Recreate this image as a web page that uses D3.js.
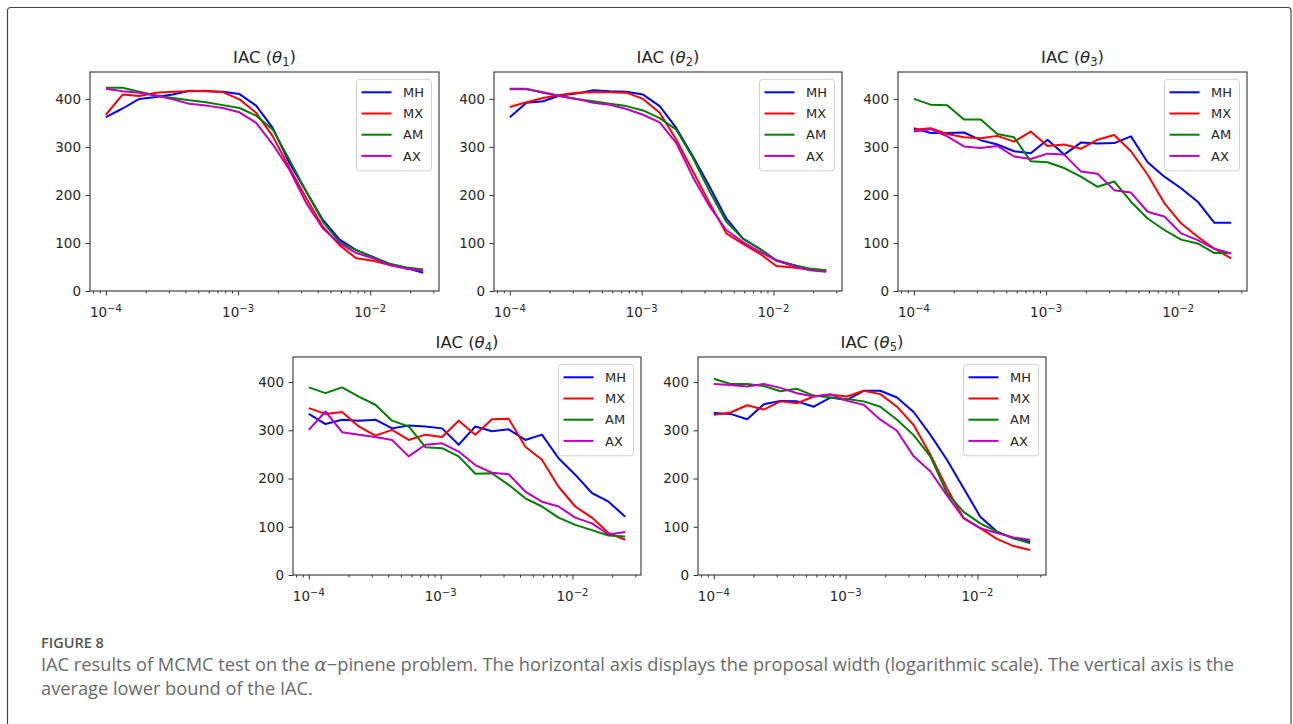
<!DOCTYPE html>
<html>
<head>
<meta charset="utf-8">
<script src="https://cdn.jsdelivr.net/npm/d3@7"></script>
<style>
  html, body { margin: 0; padding: 0; background: #fff; }
  svg { display: block; }
</style>
</head>
<body>
<svg id="fig" width="1293" height="724"></svg>
<script>
// Proposal widths (log-spaced grid from 1e-4 to ~2.5e-2)
const widths = [1.000e-4, 1.338e-4, 1.789e-4, 2.393e-4, 3.201e-4, 4.281e-4, 5.727e-4, 7.661e-4,
  1.025e-3, 1.371e-3, 1.833e-3, 2.452e-3, 3.280e-3, 4.387e-3, 5.868e-3, 7.848e-3,
  1.050e-2, 1.404e-2, 1.878e-2, 2.512e-2];

const methods = ["MH", "MX", "AM", "AX"];
const colors = ["#0000ff", "#ff0000", "#008000", "#bf00bf"];
const yTicks = [0, 100, 200, 300, 400];
const xMajor = [1e-4, 1e-3, 1e-2];
const xMajorExp = ["−4", "−3", "−2"];

// IAC per parameter, one array per sampler
const theta1_MH = [362, 380, 400, 404, 409, 417, 416, 415, 410, 386, 339, 266, 207, 148, 107, 85, 71, 56, 48, 38];
const theta1_MX = [367, 409, 406, 413, 415, 416, 417, 414, 399, 371, 322, 256, 193, 134, 95, 68, 63, 54, 47, 43];
const theta1_AM = [423, 423, 415, 407, 402, 397, 393, 387, 381, 365, 336, 273, 207, 144, 102, 85, 70, 57, 49, 45];
const theta1_AX = [421, 416, 413, 407, 399, 390, 386, 381, 372, 350, 305, 252, 183, 130, 99, 79, 68, 54, 47, 42];

const theta2_MH = [362, 392, 395, 407, 411, 418, 416, 415, 409, 385, 339, 280, 217, 151, 109, 88, 64, 54, 45, 41];
const theta2_MX = [383, 393, 402, 408, 413, 414, 414, 413, 400, 371, 315, 249, 183, 120, 98, 78, 52, 49, 45, 42];
const theta2_AM = [421, 421, 413, 406, 400, 395, 390, 385, 376, 360, 336, 277, 207, 144, 109, 88, 63, 54, 47, 43];
const theta2_AX = [420, 420, 414, 406, 400, 392, 388, 379, 367, 351, 308, 237, 176, 127, 102, 82, 64, 52, 43, 40];

const theta3_MH = [339, 329, 329, 330, 314, 305, 291, 287, 315, 284, 309, 307, 308, 322, 268, 238, 214, 186, 142, 142];
const theta3_MX = [336, 339, 327, 320, 318, 323, 311, 332, 302, 305, 296, 315, 325, 291, 242, 183, 141, 113, 88, 68];
const theta3_AM = [400, 388, 387, 357, 357, 327, 320, 270, 268, 256, 238, 217, 228, 186, 151, 127, 107, 99, 79, 79];
const theta3_AX = [332, 337, 322, 301, 298, 302, 280, 275, 286, 284, 249, 244, 210, 205, 165, 155, 120, 106, 88, 78];

const theta4_MH = [334, 313, 322, 320, 322, 304, 310, 308, 304, 270, 308, 298, 302, 280, 291, 242, 208, 170, 152, 121];
const theta4_MX = [346, 334, 338, 308, 289, 301, 280, 291, 286, 320, 291, 323, 324, 266, 239, 183, 142, 119, 87, 73];
const theta4_AM = [389, 377, 389, 370, 353, 320, 308, 265, 263, 246, 210, 211, 187, 159, 142, 119, 104, 93, 82, 80];
const theta4_AX = [301, 339, 296, 291, 286, 280, 246, 270, 273, 256, 228, 212, 209, 173, 152, 142, 119, 107, 84, 89];

const theta5_MH = [336, 334, 323, 354, 361, 360, 349, 368, 363, 382, 382, 368, 338, 291, 239, 180, 121, 90, 76, 69];
const theta5_MX = [332, 337, 352, 343, 360, 356, 370, 374, 370, 382, 375, 349, 311, 250, 180, 118, 97, 75, 60, 52];
const theta5_AM = [407, 396, 396, 392, 381, 386, 372, 368, 365, 360, 349, 322, 290, 246, 170, 131, 107, 90, 76, 66];
const theta5_AX = [396, 394, 391, 396, 388, 377, 370, 375, 361, 353, 322, 299, 246, 215, 165, 118, 97, 87, 78, 73];

const panelSubs = ["1", "2", "3", "4", "5"];
const panelSeries = [
  [theta1_MH, theta1_MX, theta1_AM, theta1_AX],
  [theta2_MH, theta2_MX, theta2_AM, theta2_AX],
  [theta3_MH, theta3_MX, theta3_AM, theta3_AX],
  [theta4_MH, theta4_MX, theta4_AM, theta4_AX],
  [theta5_MH, theta5_MX, theta5_AM, theta5_AX]
];

const captionHead = "FIGURE 8";
const captionLine1 = ["IAC results of MCMC test on the ", "α", "−pinene problem. The horizontal axis displays the proposal width (logarithmic scale). The vertical axis is the"];
const captionLine2 = "average lower bound of the IAC.";

// Layout of the five axes boxes
const boxes = [
  { x0: 90,  x1: 439,  y0: 72,  y1: 291, ymax: 456 },
  { x0: 494, x1: 842,  y0: 72,  y1: 291, ymax: 456 },
  { x0: 898, x1: 1247, y0: 72,  y1: 291, ymax: 456 },
  { x0: 293, x1: 641,  y0: 357, y1: 575, ymax: 452 },
  { x0: 698, x1: 1046, y0: 357, y1: 575, ymax: 452 }
];

const svg = d3.select("#fig");
svg.append("rect").attr("width", 1293).attr("height", 724).attr("fill", "#fff");
svg.append("rect").attr("x", 7.5).attr("y", 7.5).attr("width", 1283.5).attr("height", 740)
  .attr("fill", "none").attr("stroke", "#444").attr("stroke-width", 1.2).attr("rx", 3);

const FONT = "'DejaVu Sans', sans-serif";
const TXT = "#262626";

function drawPanel(k) {
  const b = boxes[k];
  const g = svg.append("g");
  const x = d3.scaleLog().domain([Math.pow(10, -4.12), Math.pow(10, -1.48)]).range([b.x0, b.x1]);
  const y = d3.scaleLinear().domain([0, b.ymax]).range([b.y1, b.y0]);

  // series lines
  const line = d3.line().x((d, i) => x(widths[i])).y(d => y(d));
  panelSeries[k].forEach((s, j) => {
    g.append("path").datum(s).attr("d", line)
      .attr("fill", "none").attr("stroke", colors[j]).attr("stroke-width", 2)
      .attr("stroke-linejoin", "round");
  });

  // y axis
  const ya = g.append("g").attr("transform", `translate(${b.x0},0)`)
    .call(d3.axisLeft(y).tickValues(yTicks).tickSize(4.5).tickPadding(4.5));
  ya.select(".domain").remove();
  ya.selectAll("line").attr("stroke", "#333");
  ya.selectAll("text").attr("font-family", FONT).attr("font-size", 13.5).attr("fill", TXT);

  // x axis: minor ticks
  const minors = [];
  for (let e = -5; e <= -1; e++) for (let m = 2; m <= 9; m++) {
    const v = m * Math.pow(10, e);
    if (v > x.domain()[0] && v < x.domain()[1]) minors.push(v);
  }
  const xm = g.append("g").attr("transform", `translate(0,${b.y1})`)
    .call(d3.axisBottom(x).tickValues(minors).tickSize(2.5).tickFormat(""));
  xm.select(".domain").remove();
  xm.selectAll("line").attr("stroke", "#333");

  const xa = g.append("g").attr("transform", `translate(0,${b.y1})`)
    .call(d3.axisBottom(x).tickValues(xMajor).tickSize(4.5).tickFormat(""));
  xa.select(".domain").remove();
  xa.selectAll("line").attr("stroke", "#333");
  xMajor.forEach((v, i) => {
    const t = g.append("text").attr("x", x(v)).attr("y", b.y1 + 25.5)
      .attr("text-anchor", "middle").attr("font-family", FONT).attr("font-size", 13.5).attr("fill", TXT);
    t.append("tspan").text("10");
    t.append("tspan").attr("dy", "-0.5em").attr("font-size", 10).text(xMajorExp[i]);
  });

  // frame
  g.append("rect").attr("x", b.x0).attr("y", b.y0).attr("width", b.x1 - b.x0).attr("height", b.y1 - b.y0)
    .attr("fill", "none").attr("stroke", "#333").attr("stroke-width", 1.1);

  // title
  const tt = g.append("text").attr("x", (b.x0 + b.x1) / 2).attr("y", b.y0 - 9)
    .attr("text-anchor", "middle").attr("font-family", FONT).attr("font-size", 16.5).attr("fill", TXT);
  tt.append("tspan").text("IAC (");
  tt.append("tspan").attr("font-style", "italic").text("θ");
  tt.append("tspan").attr("dy", "0.25em").attr("font-size", 11.5).text(panelSubs[k]);
  tt.append("tspan").attr("dy", "-0.25em").text(")");

  // legend
  const lx = b.x1 - 82.5, ly = b.y0 + 7.3;
  const lg = g.append("g").attr("transform", `translate(${lx},${ly})`);
  lg.append("rect").attr("width", 75).attr("height", 91.5).attr("rx", 3)
    .attr("fill", "#fff").attr("fill-opacity", 0.85).attr("stroke", "#d0d0d0");
  methods.forEach((m, j) => {
    const cy = 13 + 21.2 * j;
    lg.append("line").attr("x1", 5).attr("x2", 35).attr("y1", cy).attr("y2", cy)
      .attr("stroke", colors[j]).attr("stroke-width", 2);
    lg.append("text").attr("x", 46.5).attr("y", cy + 4.7).attr("font-family", FONT)
      .attr("font-size", 13).attr("fill", TXT).text(m);
  });
}

for (let k = 0; k < 5; k++) drawPanel(k);

// caption
const CAP = "'Open Sans', 'Noto Sans', sans-serif";
svg.append("text").attr("x", 41).attr("y", 648).attr("font-family", CAP).attr("font-weight", 600)
  .attr("font-size", 14.5).attr("fill", "#555").text(captionHead);

const l1 = svg.append("text").attr("x", 41).attr("y", 671).attr("font-family", CAP)
  .attr("font-size", 16).attr("fill", "#6a6a6a");
captionLine1.forEach((s, i) => {
  const t = l1.append("tspan").text(s);
  if (i === 1) t.attr("font-style", "italic").attr("font-family", "'DejaVu Serif', serif");
});
const w = l1.node().getComputedTextLength();
const fs = 16 * 1194 / w;
l1.attr("font-size", fs);
svg.append("text").attr("x", 41).attr("y", 695).attr("font-family", CAP)
  .attr("font-size", fs).attr("fill", "#6a6a6a").text(captionLine2);
</script>
</body>
</html>
